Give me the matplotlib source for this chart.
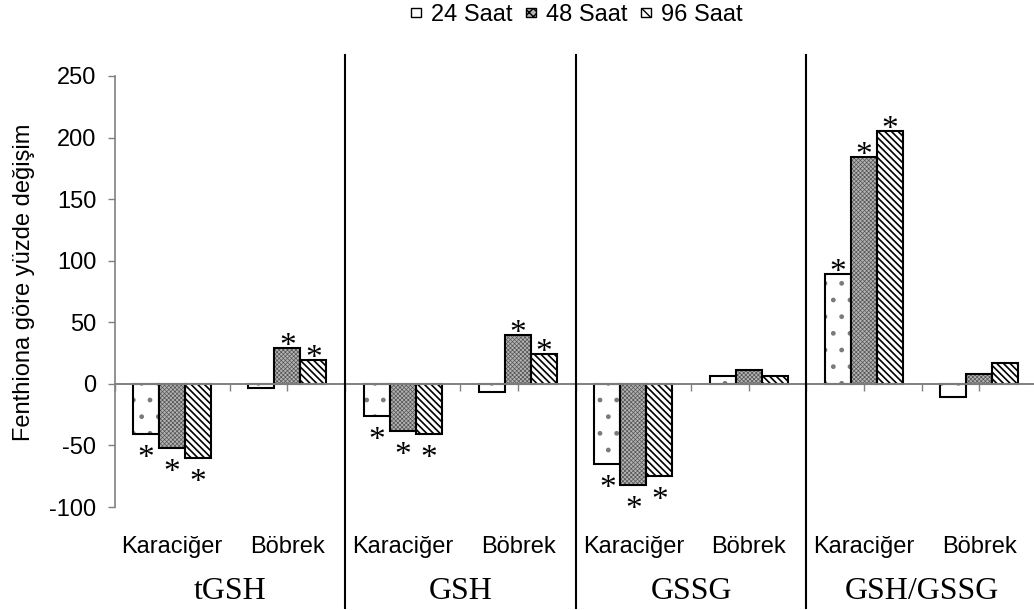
import matplotlib
matplotlib.use("Agg")
import matplotlib.pyplot as plt
import matplotlib.transforms as mtransforms
from matplotlib.lines import Line2D
from matplotlib.patches import Patch
import numpy as np

# ---- data -------------------------------------------------------------
groups = ["tGSH", "GSH", "GSSG", "GSH/GSSG"]
tissues = ["Karaciğer", "Böbrek"]
series = ["24 Saat", "48 Saat", "96 Saat"]

# percent change relative to fenthion, per (group, tissue) in order
h24 = [-41, -3, -26, -7, -65, 6, 89, -11]
h48 = [-52, 29, -38, 40, -82, 11, 184, 8]
h96 = [-60, 19, -41, 24, -75, 6, 205, 17]

# significance flags (asterisk) for each bar
sig24 = [1, 0, 1, 0, 1, 0, 1, 0]
sig48 = [1, 1, 1, 1, 1, 0, 1, 0]
sig96 = [1, 1, 1, 1, 1, 0, 1, 0]

yticks = [-100, -50, 0, 50, 100, 150, 200, 250]

# ---- styling ----------------------------------------------------------
SANS = "Liberation Sans"
SERIF = "Liberation Serif"
FS = 17
plt.rcParams["font.family"] = SANS

styles = [
    dict(face="white", hatch=".", hcolor="#7a7a7a", hlw=1.0),
    dict(face="#b4b4b4", hatch="xxxxxxxx", hcolor="#555555", hlw=0.5),
    dict(face="white", hatch="\\\\\\\\\\", hcolor="black", hlw=1.2),
]

fig = plt.figure(figsize=(10.34, 6.10), dpi=100)
ax = fig.add_axes([114.5 / 1034, 103 / 610, 922.5 / 1034, 431 / 610])

n = len(h24)
x = np.arange(n) + 0.5
w = 0.2255
values = [h24, h48, h96]
sigs = [sig24, sig48, sig96]

for k, (vals, st) in enumerate(zip(values, styles)):
    pos = x + (k - 1) * w
    with plt.rc_context({"hatch.linewidth": st["hlw"]}):
        ax.bar(pos, vals, w, color=st["face"], hatch=st["hatch"],
               edgecolor=st["hcolor"], linewidth=0, zorder=2)
    ax.bar(pos, vals, w, color="none", edgecolor="black",
           linewidth=1.5, zorder=3)

# asterisks for significant changes
for k, (vals, flags) in enumerate(zip(values, sigs)):
    for i, (v, f) in enumerate(zip(vals, flags)):
        if not f:
            continue
        off = -7 if v > 0 else -33
        ax.annotate("*", xy=(x[i] + (k - 1) * w, v), xytext=(0, off),
                    textcoords="offset pixels", ha="center", va="baseline",
                    fontsize=24, family=SERIF, zorder=5,
                    annotation_clip=False)

ax.set_xlim(0, n)
ax.set_ylim(-100, 250)

for s in ["top", "right"]:
    ax.spines[s].set_visible(False)
ax.spines["left"].set_color("#808080")
ax.spines["left"].set_linewidth(1.2)
ax.spines["bottom"].set_position(("data", 0))
ax.spines["bottom"].set_color("#808080")
ax.spines["bottom"].set_linewidth(1.4)
ax.spines["bottom"].set_zorder(4)

ax.set_yticks(yticks)
ax.set_yticklabels([str(t) for t in yticks])
ax.tick_params(axis="y", direction="out", length=5, width=1.0,
               color="#808080", labelsize=FS, pad=8)
ax.set_xticks(np.arange(0, n + 0.5, 0.5))
ax.set_xticklabels([])
ax.tick_params(axis="x", direction="out", length=5, width=1.0,
               color="#808080", zorder=6)

# tissue and group labels below the plot
trans = mtransforms.blended_transform_factory(ax.transData, fig.transFigure)
for i in range(n):
    ax.text(x[i], 1 - 553 / 610, tissues[i % 2], transform=trans,
            ha="center", va="baseline", fontsize=FS)
for g, name in enumerate(groups):
    ax.text(2 * g + 1, 1 - 599 / 610, name, transform=trans,
            ha="center", va="baseline", fontsize=23, family=SERIF)

# vertical separators between parameter groups
for g in range(1, len(groups)):
    fig.add_artist(Line2D([2 * g, 2 * g], [1 - 55 / 610, 1 - 608 / 610],
                          transform=trans, color="black", linewidth=1.5,
                          clip_on=False))

fig.text(24 / 1034, 1 - 282 / 610, "Fenthiona göre yüzde değişim",
         rotation=90, ha="center", va="center", fontsize=FS)

legend_hatch = [".", "xxxx", "\\\\\\"]
handles = []
for st, hh, lab in zip(styles, legend_hatch, series):
    with plt.rc_context({"hatch.linewidth": 0.7}):
        handles.append(Patch(facecolor=st["face"], edgecolor="black",
                             hatch=hh, linewidth=1.0, label=lab))
fig.legend(handles=handles, loc="center", ncol=3,
           bbox_to_anchor=(577 / 1034, 1 - 15 / 610), frameon=False,
           fontsize=FS, handlelength=0.42, handleheight=0.27,
           handletextpad=0.45, columnspacing=0.55, borderpad=0.1)

fig.savefig("out.png", dpi=100)
